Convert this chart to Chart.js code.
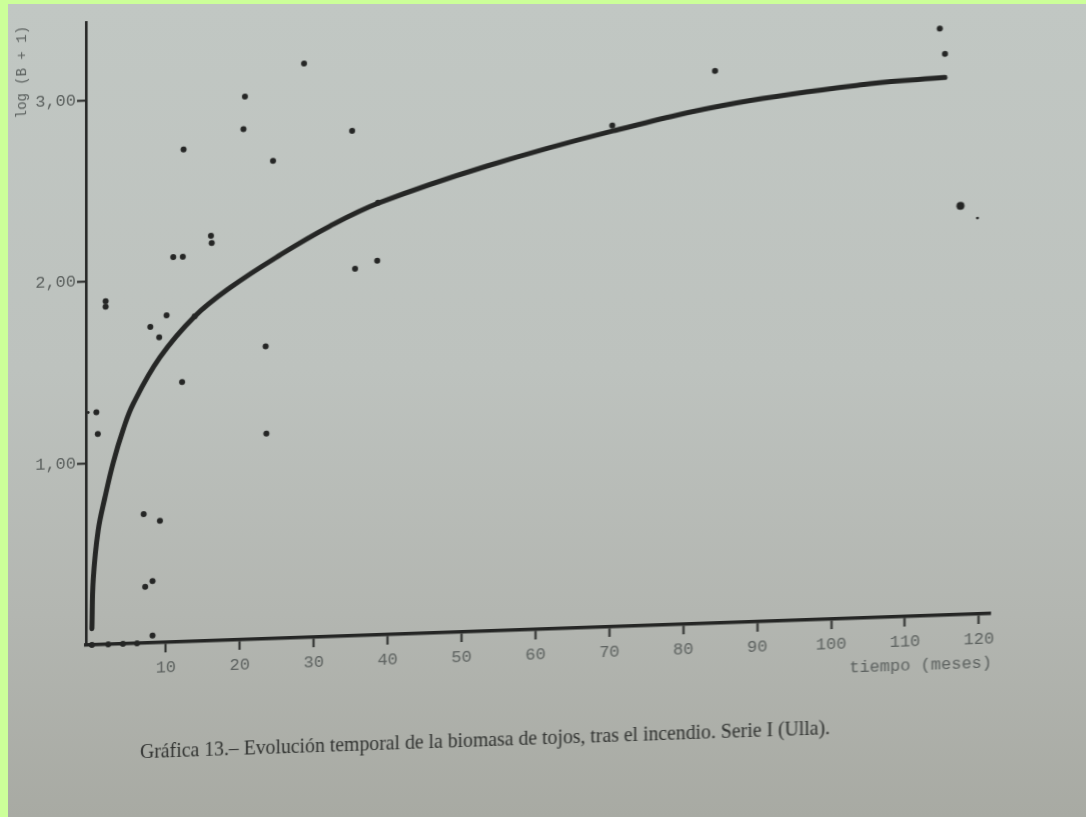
<!DOCTYPE html>
<html lang="es">
<head>
<meta charset="utf-8">
<title>Gráfica 13</title>
<script src="https://cdn.jsdelivr.net/npm/chart.js@4.4.1/dist/chart.umd.min.js"></script>
<style>
  html, body { margin: 0; padding: 0; width: 1086px; height: 817px; overflow: hidden; background: #ccff99; }
  #papel {
    position: absolute; left: 8px; top: 4px; right: 0; bottom: 0;
    background: linear-gradient(180deg, #c1c7c3 0%, #bdc2be 45%, #b3b6b1 75%, #a8aaa3 100%);
  }
  #grafica {
    position: absolute; left: 0; top: 0;
    transform-origin: 90px 645px;
    transform: skewY(-2deg);
  }
</style>
</head>
<body>
<div id="papel"></div>
<canvas id="grafica" width="1086" height="817"></canvas>
<script>
// Tiempo tras el incendio (meses) y log(B + 1) de cada muestra
const mesesMuestras = [20.7, 20.5, 12.4, 24.5, 16.1, 16.2, 11.0, 12.3, 1.85, 1.85,
  10.1, 7.9, 9.1, 23.5, 12.2, 0.6, 0.8, 23.6, 7.0, 9.2, 7.2, 8.2, 8.2,
  0.0, 2.2, 4.2, 6.1, 28.7, 35.2, 35.6, 38.6, 38.7, 13.9, 70.4, 84.3, 114.7, 115.4];
const logMuestras = [2.99, 2.81, 2.71, 2.63, 2.23, 2.19, 2.12, 2.12, 1.89, 1.86,
  1.80, 1.74, 1.68, 1.61, 1.43, 1.28, 1.16, 1.13, 0.71, 0.67, 0.31, 0.34, 0.04,
  0, 0, 0, 0, 3.16, 2.78, 2.02, 2.06, 2.38, 1.79, 2.76, 3.04, 3.23, 3.09];

// Muestras marcadas con punto grueso y con punto fino
const mesesGruesos = [117.5];
const logGruesos = [2.25];
const mesesFinos = [119.8, -0.5];
const logFinos = [2.18, 1.28];

// Curva de ajuste trazada sobre la gráfica
const mesesCurva = [0.0, 0.18, 0.85, 1.76, 2.88, 4.23, 5.59, 9.2, 13.93, 18.67,
  25.43, 32.2, 38.96, 53.4, 70.5, 87.2, 105.2, 115.4];
const logCurva = [0.09, 0.36, 0.63, 0.81, 1.00, 1.18, 1.32, 1.57, 1.79, 1.94,
  2.11, 2.26, 2.38, 2.56, 2.73, 2.86, 2.94, 2.96];

// Marcas de los ejes
const marcasX = [10, 20, 30, 40, 50, 60, 70, 80, 90, 100, 110, 120];
const marcasY = [1, 2, 3];

const tituloX = 'tiempo (meses)';
const tituloY = 'log (B + 1)';
const pie = 'Gráfica 13.– Evolución temporal de la biomasa de tojos, tras el incendio. Serie I (Ulla).';

const tinta = '#252625';
const tintaTenue = '#5c615f';

const pares = (xs, ys) => xs.map((x, i) => ({ x, y: ys[i] }));

const textos = {
  id: 'textos',
  afterDraw(chart) {
    const ctx = chart.ctx;
    const xs = chart.scales.x;
    ctx.save();
    ctx.fillStyle = tintaTenue;
    ctx.font = '17px "Liberation Mono", monospace';
    ctx.textAlign = 'right';
    ctx.textBaseline = 'middle';
    ctx.fillText(tituloX, xs.right + 2, 694);

    ctx.save();
    ctx.translate(22, 116);
    ctx.rotate(-Math.PI / 2);
    ctx.font = '14px "Liberation Mono", monospace';
    ctx.textAlign = 'left';
    ctx.fillText(tituloY, 0, 0);
    ctx.restore();

    ctx.fillStyle = '#2f312f';
    ctx.font = '21px "Liberation Serif", serif';
    ctx.textAlign = 'left';
    ctx.textBaseline = 'alphabetic';
    ctx.fillText(pie, 140, 760, 690);
    ctx.restore();
  }
};

new Chart(document.getElementById('grafica'), {
  type: 'scatter',
  data: {
    datasets: [
      {
        type: 'line',
        data: pares(mesesCurva, logCurva),
        borderColor: tinta,
        borderWidth: 5,
        borderCapStyle: 'round',
        borderJoinStyle: 'round',
        pointRadius: 0,
        tension: 0.4,
        clip: false
      },
      {
        data: pares(mesesMuestras, logMuestras),
        backgroundColor: tinta,
        borderWidth: 0,
        pointRadius: 3,
        clip: false
      },
      {
        data: pares(mesesGruesos, logGruesos),
        backgroundColor: tinta,
        borderWidth: 0,
        pointRadius: 4,
        clip: false
      },
      {
        data: pares(mesesFinos, logFinos),
        backgroundColor: tinta,
        borderWidth: 0,
        pointRadius: 1.4,
        clip: false
      }
    ]
  },
  options: {
    responsive: false,
    devicePixelRatio: 1,
    animation: false,
    events: [],
    layout: { padding: { top: 22, right: 96, left: 0, bottom: 0 } },
    plugins: { legend: { display: false }, tooltip: { enabled: false } },
    scales: {
      x: {
        type: 'linear',
        min: -0.8,
        max: 121.5,
        afterBuildTicks: (eje) => { eje.ticks = marcasX.map(v => ({ value: v })); },
        afterFit: (eje) => { eje.height = 172; },
        border: { display: true, color: tinta, width: 3.4 },
        grid: { display: true, drawOnChartArea: false, drawTicks: true, tickLength: 10, tickWidth: 2, tickColor: tinta },
        ticks: {
          color: tintaTenue,
          font: { family: '"Liberation Mono", monospace', size: 17 },
          padding: 5,
          maxRotation: 0,
          autoSkip: false,
          callback: (v) => String(v)
        }
      },
      y: {
        type: 'linear',
        min: 0,
        max: 3.43,
        afterBuildTicks: (eje) => { eje.ticks = marcasY.map(v => ({ value: v })); },
        afterFit: (eje) => { eje.width = 86; },
        border: { display: true, color: tinta, width: 2.6 },
        grid: { display: true, drawOnChartArea: false, drawTicks: true, tickLength: 9, tickWidth: 2, tickColor: tinta },
        ticks: {
          color: tintaTenue,
          font: { family: '"Liberation Mono", monospace', size: 17 },
          padding: 1,
          autoSkip: false,
          callback: (v) => v.toFixed(2).replace('.', ',')
        }
      }
    }
  },
  plugins: [textos]
});
</script>
</body>
</html>
